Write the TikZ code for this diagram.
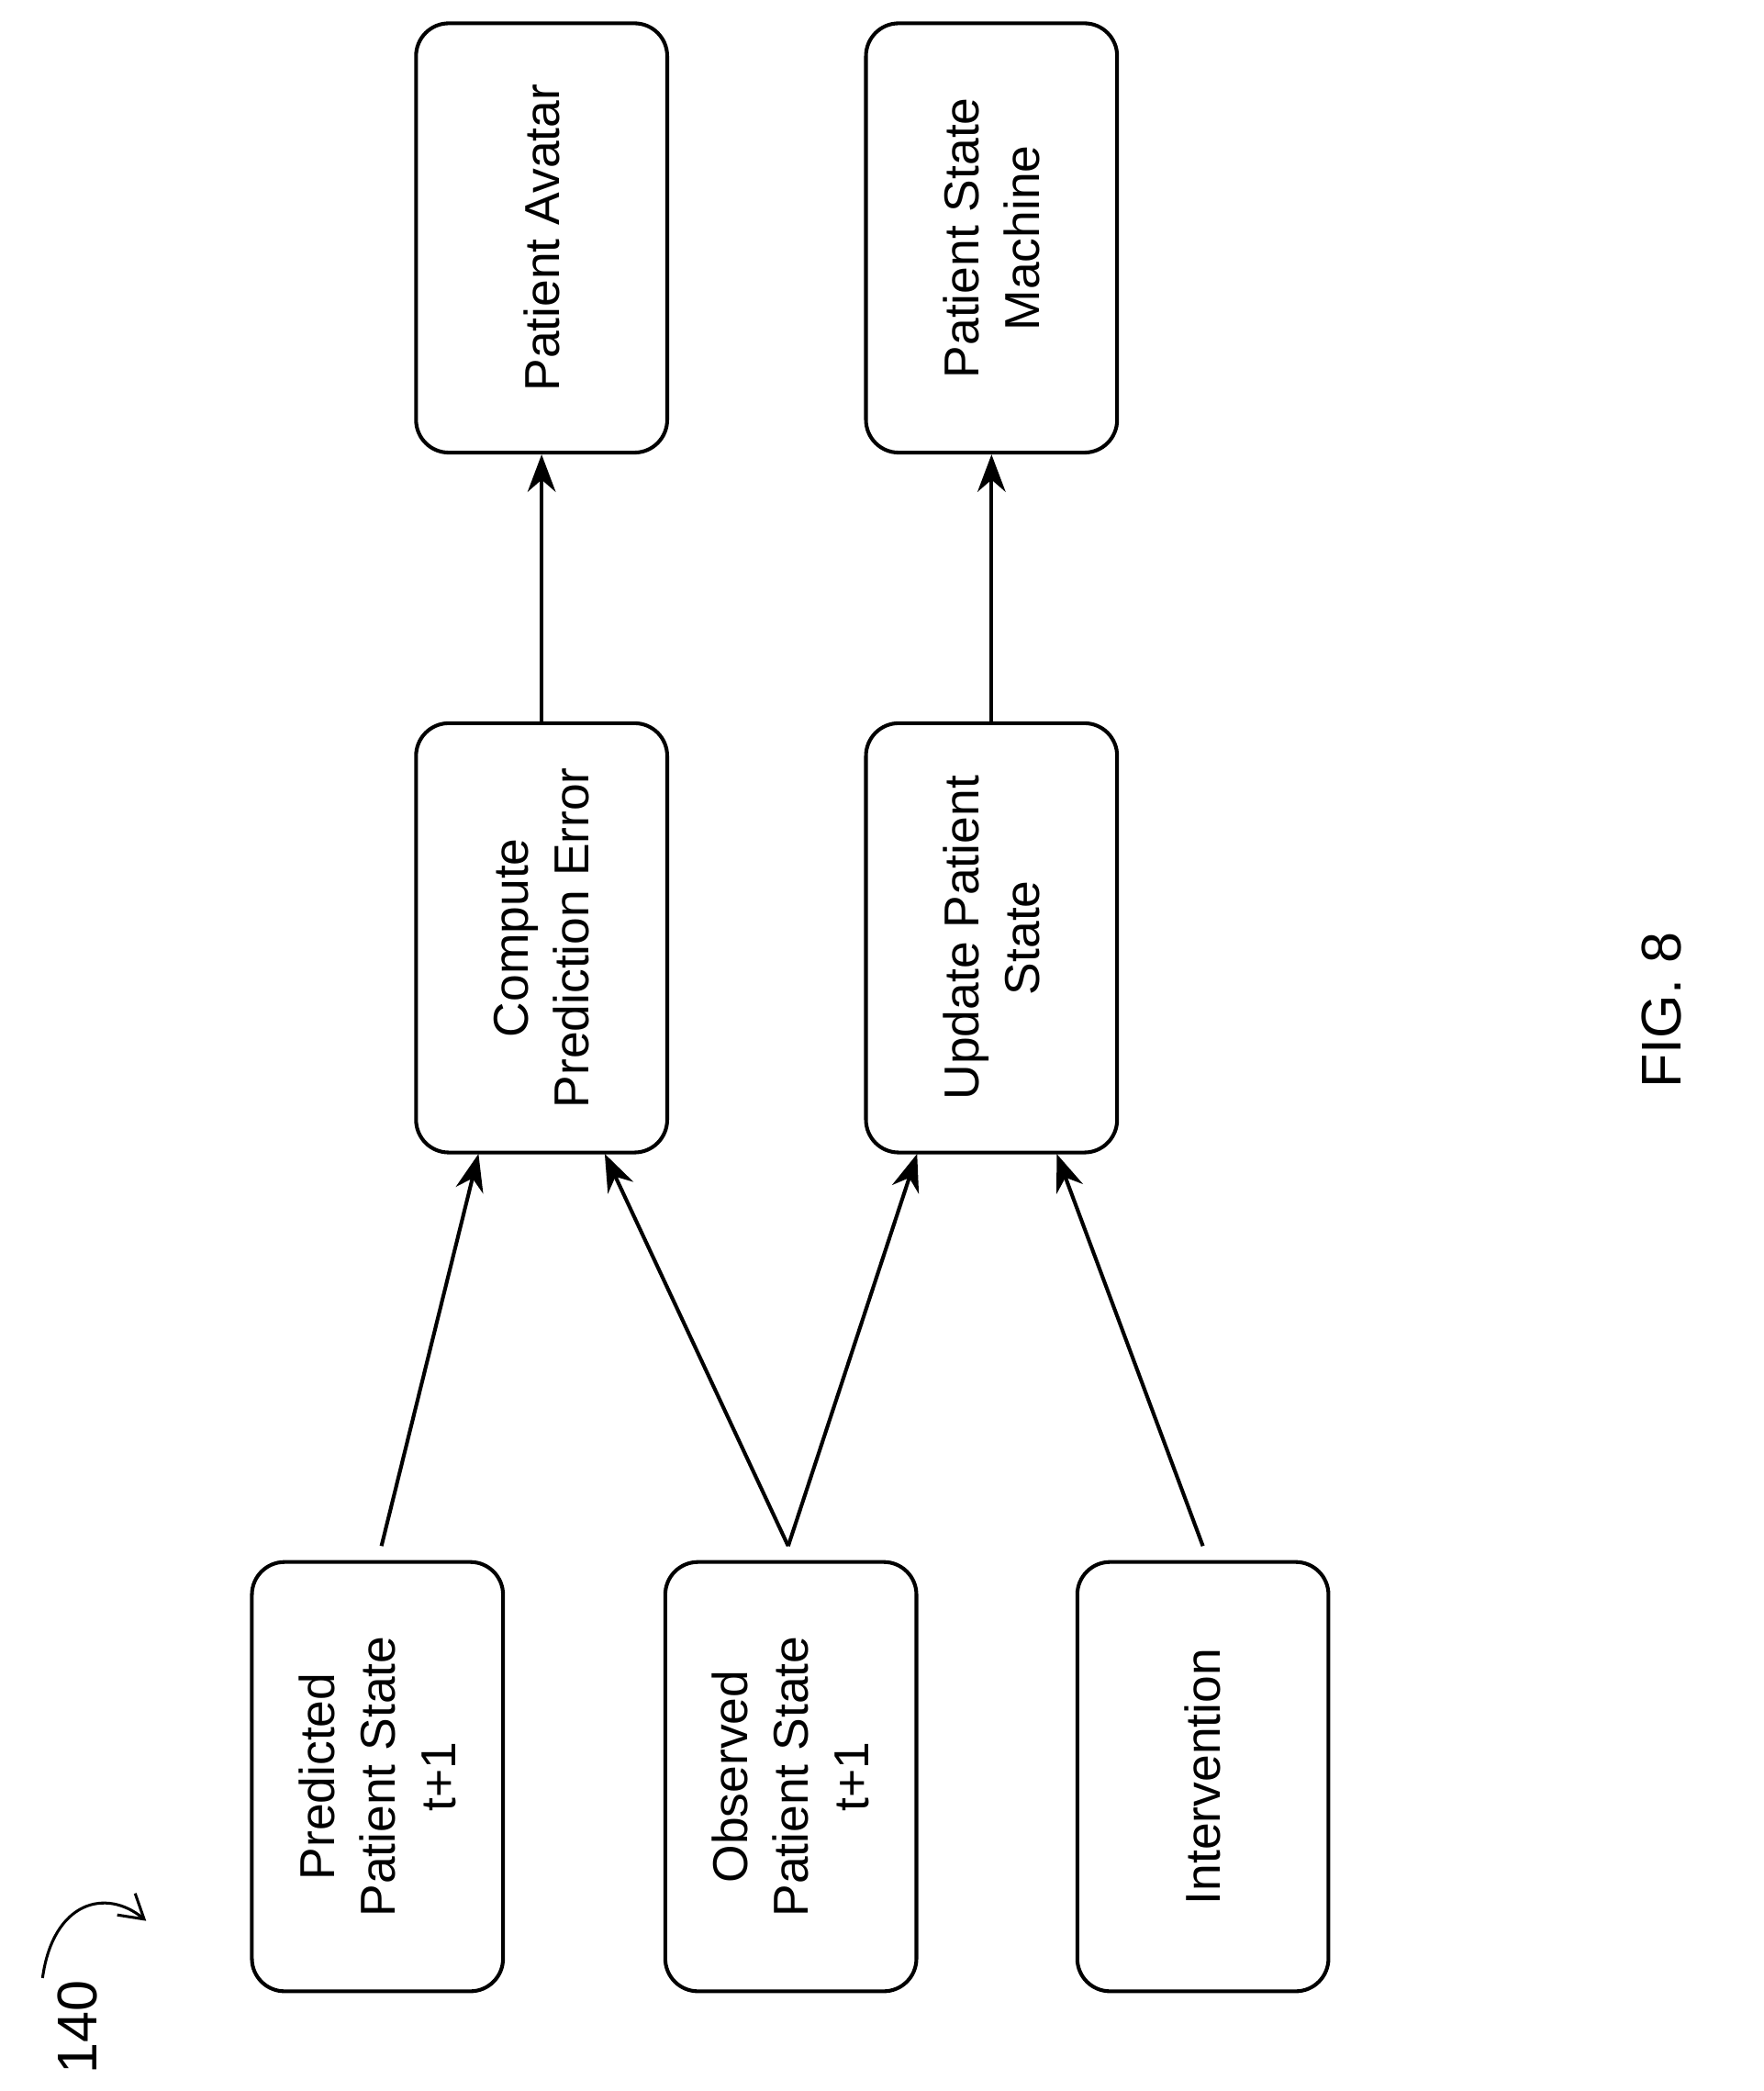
\documentclass[tikz,border=0pt]{standalone}
\usepackage{fontspec}
\setmainfont{Liberation Sans}
\usetikzlibrary{arrows.meta}
\begin{document}
\begin{tikzpicture}[x=0.02cm,y=-0.02cm,
  box/.style={draw,line width=1.6pt,rounded corners=14pt,minimum width=3.78cm,minimum height=6.46cm,inner sep=0pt},
  lbl/.style={rotate=90,align=center,font=\fontsize{21}{26}\selectfont},
  arr/.style={line width=1.6pt,-{Stealth[length=16pt,width=12pt]}}]
\useasboundingbox (0,0) rectangle (1327,1573);
\node[box] (av) at (407.5,179) {};
\node[lbl] at (av) {Patient Avatar};
\node[box] (sm) at (746,179) {};
\node[lbl] at (sm) {Patient State\\Machine};
\node[box] (cp) at (407.5,705.5) {};
\node[lbl] at (cp) {Compute\\Prediction Error};
\node[box] (up) at (746,705.5) {};
\node[lbl] at (up) {Update Patient\\State};
\node[box] (pr) at (284,1336.5) {};
\node[lbl] at (pr) {Predicted\\Patient State\\t+1};
\node[box] (ob) at (595,1336.5) {};
\node[lbl] at (ob) {Observed\\Patient State\\t+1};
\node[box] (in) at (905,1336.5) {};
\node[lbl] at (in) {Intervention};
\coordinate (p1) at (287,1163);
\coordinate (o1) at (593,1163);
\coordinate (i1) at (905,1163);
\draw[arr] (cp.north) -- (av.south);
\draw[arr] (up.north) -- (sm.south);
\draw[arr] (p1) -- (360,868);
\draw[arr] (o1) -- (455,868);
\draw[arr] (o1) -- (690,868);
\draw[arr] (i1) -- (795,868);
\node[rotate=90,font=\fontsize{24}{28}\selectfont] (lab) at (58,1525) {140};
\coordinate (c1) at (32,1488);
\coordinate (c2) at (110,1445);
\draw[line width=1.2pt,-{Straight Barb[length=10pt,width=12pt]}] (c1) .. controls (40,1430) and (80,1420) .. (c2);
\node[rotate=90,font=\fontsize{24}{28}\selectfont] (fig) at (1250,760) {FIG. 8};
\end{tikzpicture}
\end{document}
